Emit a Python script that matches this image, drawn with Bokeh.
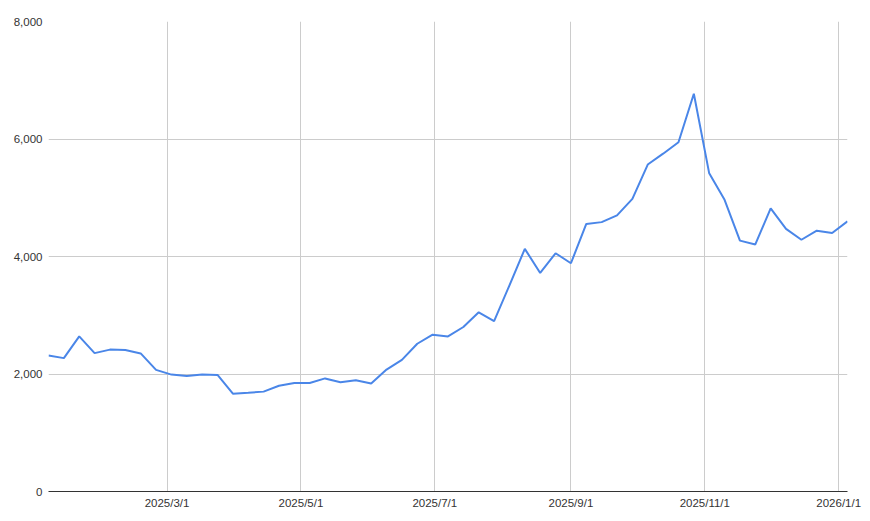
from datetime import datetime
from bokeh.plotting import figure
from bokeh.models import Range1d, FixedTicker, NumeralTickFormatter, ColumnDataSource
from bokeh.embed import file_html
from bokeh.resources import INLINE

dates = [
    "2025-01-06", "2025-01-13", "2025-01-20", "2025-01-27",
    "2025-02-03", "2025-02-10", "2025-02-17", "2025-02-24",
    "2025-03-03", "2025-03-10", "2025-03-17", "2025-03-24", "2025-03-31",
    "2025-04-07", "2025-04-14", "2025-04-21", "2025-04-28",
    "2025-05-05", "2025-05-12", "2025-05-19", "2025-05-26",
    "2025-06-02", "2025-06-09", "2025-06-16", "2025-06-23", "2025-06-30",
    "2025-07-07", "2025-07-14", "2025-07-21", "2025-07-28",
    "2025-08-04", "2025-08-11", "2025-08-18", "2025-08-25",
    "2025-09-01", "2025-09-08", "2025-09-15", "2025-09-22", "2025-09-29",
    "2025-10-06", "2025-10-13", "2025-10-20", "2025-10-27",
    "2025-11-03", "2025-11-10", "2025-11-17", "2025-11-24",
    "2025-12-01", "2025-12-08", "2025-12-15", "2025-12-22", "2025-12-29",
    "2026-01-05",
]
values = [
    2315, 2270, 2640, 2355,
    2415, 2410, 2350, 2070,
    1990, 1965, 1990, 1985, 1665,
    1680, 1700, 1800, 1845,
    1848, 1925, 1860, 1895,
    1840, 2075, 2240, 2515, 2670,
    2640, 2800, 3050, 2900,
    3510, 4130, 3720, 4055,
    3885, 4555, 4585, 4700, 4980,
    5565, 5750, 5945, 6770,
    5415, 4965, 4270, 4205,
    4820, 4470, 4285, 4440, 4400,
    4600,
]
x_tick_dates = ["2025-03-01", "2025-05-01", "2025-07-01", "2025-09-01", "2025-11-01", "2026-01-01"]
x_tick_labels = ["2025/3/1", "2025/5/1", "2025/7/1", "2025/9/1", "2025/11/1", "2026/1/1"]
y_ticks = [0, 2000, 4000, 6000, 8000]


def to_ms(s):
    return (datetime.strptime(s, "%Y-%m-%d") - datetime(1970, 1, 1)).total_seconds() * 1000.0


xs = [datetime.strptime(d, "%Y-%m-%d") for d in dates]
src = ColumnDataSource(data=dict(x=xs, y=values))

p = figure(width=866, height=519, x_axis_type="datetime",
           output_backend="svg", toolbar_location=None,
           x_range=Range1d(to_ms(dates[0]), to_ms(dates[-1])),
           y_range=Range1d(0, 8000),
           min_border_left=48, min_border_right=19,
           min_border_top=21, min_border_bottom=28)
p.outline_line_color = None
p.background_fill_color = "white"
p.border_fill_color = "white"

p.line("x", "y", source=src, line_color="#4a86e8", line_width=2)

tick_ms = [to_ms(d) for d in x_tick_dates]
p.xaxis.ticker = FixedTicker(ticks=tick_ms)
p.xaxis.major_label_overrides = {t: lab for t, lab in zip(tick_ms, x_tick_labels)}
p.yaxis.ticker = FixedTicker(ticks=y_ticks)
p.yaxis.formatter = NumeralTickFormatter(format="0,0")

for ax in (p.xaxis, p.yaxis):
    ax.major_tick_line_color = None
    ax.minor_tick_line_color = None
    ax.major_tick_out = 0
    ax.major_tick_in = 0
    ax.major_label_text_font = "Liberation Sans"
    ax.major_label_text_font_size = "11.5px"
    ax.major_label_text_color = "#333333"
p.xaxis.axis_line_color = "#333333"
p.xaxis.axis_line_width = 1
p.xaxis.major_label_standoff = 5
p.yaxis.axis_line_color = None
p.yaxis.major_label_standoff = 6

p.xgrid.grid_line_color = "#cccccc"
p.ygrid.grid_line_color = "#cccccc"
p.xgrid.ticker = p.xaxis.ticker
p.ygrid.ticker = p.yaxis.ticker

open("out.html", "w").write(file_html(p, INLINE))
